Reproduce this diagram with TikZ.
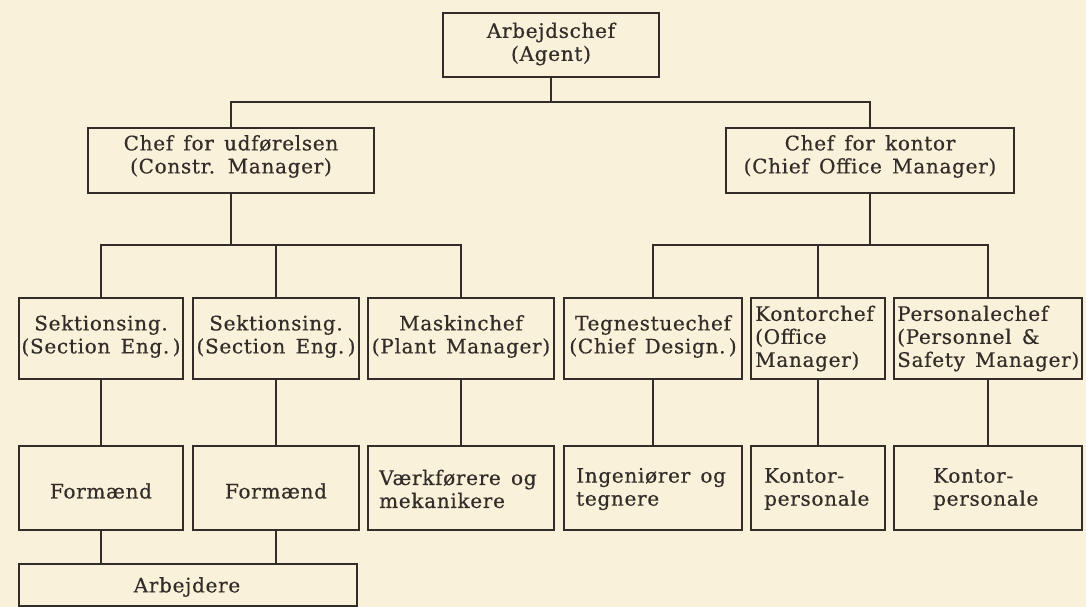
\documentclass[tikz,border=0pt]{standalone}
\usepackage{fontspec}
\setmainfont{DejaVu Serif}[LetterSpace=3.5,WordSpace=1.45,FakeBold=0.5]
\definecolor{paper}{RGB}{250,241,218}
\definecolor{ink}{RGB}{50,45,40}
\newcommand{\orgbox}[5]{\node[box, minimum width={#4-#2}, minimum height={#5-#3}] (#1) at ({(#2+#4)/2},{(#3+#5)/2}) {};}
\begin{document}
\begin{tikzpicture}[x=1pt,y=-1pt,
  box/.style={draw=ink, line width=1.7pt, inner sep=0pt, outer sep=0pt, rectangle},
  wire/.style={draw=ink, line width=1.7pt},
  txt/.style={text=ink, font=\fontsize{20}{23}\selectfont, inner sep=0pt, align=center},
  ltxt/.style={txt, align=left, anchor=west}]
\useasboundingbox (0,0) rectangle (1086,607);
\fill[paper] (0,0) rectangle (1086,607);
% boxes
\orgbox{agent}{443}{13}{659}{77}
\orgbox{cm}{88}{128}{374}{193}
\orgbox{com}{726}{128}{1014}{193}
\orgbox{s1}{19}{298}{183}{379}
\orgbox{s2}{193}{298}{359}{379}
\orgbox{mc}{368}{298}{554}{379}
\orgbox{tc}{564}{298}{742}{379}
\orgbox{kc}{751}{298}{885}{379}
\orgbox{pc}{894}{298}{1082}{379}
\orgbox{f1}{19}{446}{183}{530}
\orgbox{f2}{193}{446}{359}{530}
\orgbox{vm}{368}{446}{554}{530}
\orgbox{ig}{564}{446}{742}{530}
\orgbox{kp1}{751}{446}{885}{530}
\orgbox{kp2}{894}{446}{1082}{530}
\orgbox{arb}{19}{564}{357}{606}
% texts
\node[txt] (tagent) at (551,44) {Arbejdschef\\(Agent)};
\node[txt] (tcm) at (231,156.5) {Chef for udførelsen\\(Constr. Manager)};
\node[txt] (tcom) at (870,156.5) {Chef for kontor\\(Chief Office Manager)};
\node[txt] (ts1) at (101,336.5) {Sektionsing.\\(Section Eng.\,)};
\node[txt] (ts2) at (276,336.5) {Sektionsing.\\(Section Eng.\,)};
\node[txt] (tmc) at (461,336.5) {Maskinchef\\(Plant Manager)};
\node[txt] (ttc) at (653,336.5) {Tegnestuechef\\(Chief Design.\,)};
\node[ltxt] (tkc) at (755,338.5) {Kontorchef\\(Office\\Manager)};
\node[ltxt] (tpc) at (897,338.5) {Personalechef\\(Personnel \&\\Safety Manager)};
\node[txt] (tf1) at (101,491) {Formænd};
\node[txt] (tf2) at (276,491) {Formænd};
\node[ltxt] (tvm) at (379,489) {Værkførere og\\mekanikere};
\node[ltxt] (tig) at (576,489) {Ingeniører og\\tegnere};
\node[ltxt] (tkp1) at (764,489) {Kontor-\\personale};
\node[ltxt] (tkp2) at (933,489) {Kontor-\\personale};
\node[txt] (tarb) at (187,587) {Arbejdere};
% connectors
\coordinate (j1) at (551,102);
\coordinate (j2) at (231,245);
\coordinate (j3) at (870,245);
\draw[wire] (agent.south) -- (j1);
\draw[wire] (cm.north) |- (j1) -| (com.north);
\draw[wire] (cm.south) -- (j2);
\draw[wire] (s1.north) |- (j2) -| (mc.north);
\draw[wire] (s2.north) -- (s2.north |- j2);
\draw[wire] (com.south) -- (j3);
\draw[wire] (tc.north) |- (j3) -| (pc.north);
\draw[wire] (kc.north) -- (kc.north |- j3);
\draw[wire] (s1) -- (f1);
\draw[wire] (s2) -- (f2);
\draw[wire] (mc) -- (vm);
\draw[wire] (tc) -- (ig);
\draw[wire] (kc) -- (kp1);
\draw[wire] (pc) -- (kp2);
\draw[wire] (f1.south) -- (f1.south |- arb.north);
\draw[wire] (f2.south) -- (f2.south |- arb.north);
\end{tikzpicture}
\end{document}
